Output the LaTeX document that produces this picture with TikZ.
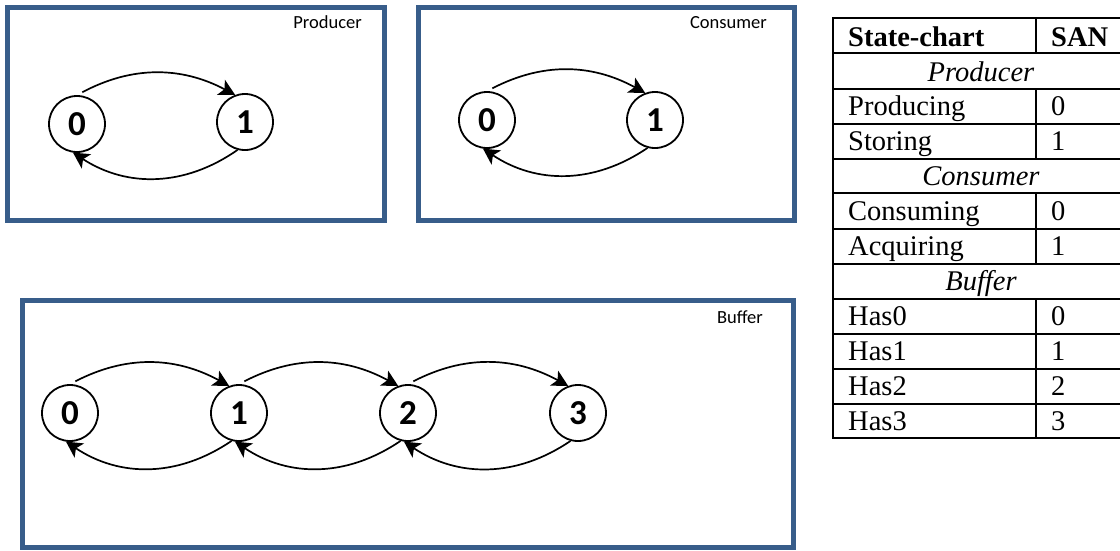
\documentclass[tikz,border=0pt]{standalone}
\usepackage{fontspec}
\setmainfont{Liberation Serif}
\newfontfamily\tablefont{Liberation Serif}
\newfontfamily\labelfont{Carlito}
\usetikzlibrary{arrows.meta}
\definecolor{frameblue}{HTML}{385D8A}
\begin{document}
\begin{tikzpicture}[x=1pt,y=-1pt,
  panel/.style={draw=frameblue,line width=5pt},
  state/.style={circle,draw,line width=1.8pt,minimum size=56pt,inner sep=0pt,
    font=\labelfont\bfseries\fontsize{35}{35}\selectfont},
  trans/.style={line width=1.7pt,-{Stealth[length=16pt,width=17pt,inset=4pt]}},
  fwd/.style={trans,shorten <=6pt,bend left=28},
  back/.style={trans,bend left=34},
  title/.style={anchor=base east,inner sep=0pt,font=\labelfont\fontsize{18.5}{18.5}\selectfont},
  cell/.style={anchor=base west,inner sep=0pt,font=\tablefont\fontsize{28.5}{30}\selectfont},
  head/.style={anchor=base west,inner sep=0pt,font=\tablefont\bfseries\fontsize{28.5}{30}\selectfont},
  group/.style={anchor=base,inner sep=0pt,font=\tablefont\itshape\fontsize{28.5}{30}\selectfont},
  grid/.style={line width=2pt}]
\useasboundingbox (0,0) rectangle (1120,550);

% ---------- Producer ----------
\draw[panel] (7,7) rectangle (384,220);
\node[title] (prodT) at (362,28) {Producer};
\node[state] (p0) at (77,124) {0};
\node[state] (p1) at (245,122) {1};
\draw[fwd] (p0.north) to (p1.110);
\draw[back] (p1.255) to (p0.262);

% ---------- Consumer ----------
\draw[panel] (418,7) rectangle (794,220);
\node[title] (consT) at (767,28) {Consumer};
\node[state] (c0) at (487,120) {0};
\node[state] (c1) at (655,120) {1};
\draw[fwd] (c0.north) to (c1.110);
\draw[back] (c1.255) to (c0.262);

% ---------- Buffer ----------
\draw[panel] (22,300) rectangle (793,547);
\node[title] (bufT) at (763,323) {Buffer};
\node[state] (b0) at (70,413) {0};
\node[state] (b1) at (239,413) {1};
\node[state] (b2) at (408,413) {2};
\node[state] (b3) at (578,413) {3};
\foreach \a/\b in {b0/b1,b1/b2,b2/b3}{
  \draw[fwd] (\a.north) to (\b.110);
  \draw[back] (\b.255) to (\a.262);
}

% ---------- Mapping table ----------
\draw[grid] (833,18) rectangle (1129,438);
\foreach \y in {53,89,124,159,193,229,264,299,334,369,404}
  \draw[grid] (833,\y) -- (1129,\y);
\foreach \t/\b in {18/53,89/124,124/159,193/229,229/264,299/334,334/369,369/404,404/438}
  \draw[grid] (1036,\t) -- (1036,\b);

\node[head] (hState) at (848,46.5) {State-chart};
\node[head] (hSan) at (1051,46.5) {SAN};
\node[group] (gProd) at (981,81) {Producer};
\node[cell] (rProducing) at (848,115.5) {Producing};
\node[cell] (vProducing) at (1051,115.5) {0};
\node[cell] (rStoring) at (848,150.5) {Storing};
\node[cell] (vStoring) at (1051,150.5) {1};
\node[group] (gCons) at (981,185) {Consumer};
\node[cell] (rConsuming) at (848,220.5) {Consuming};
\node[cell] (vConsuming) at (1051,220.5) {0};
\node[cell] (rAcquiring) at (848,255.5) {Acquiring};
\node[cell] (vAcquiring) at (1051,255.5) {1};
\node[group] (gBuf) at (981,290.5) {Buffer};
\node[cell] (rHas0) at (848,325.5) {Has0};
\node[cell] (vHas0) at (1051,325.5) {0};
\node[cell] (rHas1) at (848,360.5) {Has1};
\node[cell] (vHas1) at (1051,360.5) {1};
\node[cell] (rHas2) at (848,395.5) {Has2};
\node[cell] (vHas2) at (1051,395.5) {2};
\node[cell] (rHas3) at (848,430) {Has3};
\node[cell] (vHas3) at (1051,430) {3};
\end{tikzpicture}
\end{document}
